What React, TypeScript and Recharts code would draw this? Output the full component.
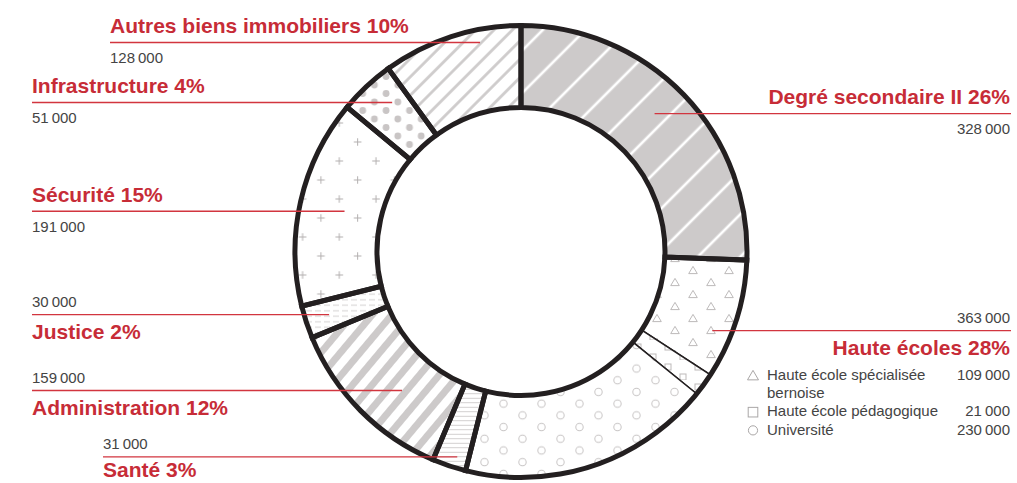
import React from "react";
import { PieChart, Pie, Cell } from "recharts";

// budget categories, clockwise from 12 o'clock
const categories = [
  "Degré secondaire II",
  "Haute écoles",
  "Santé",
  "Administration",
  "Justice",
  "Sécurité",
  "Infrastructure",
  "Autres biens immobiliers",
];
const amounts = [328000, 363000, 31000, 159000, 30000, 191000, 51000, 128000];
const shares = [26, 28, 3, 12, 2, 15, 4, 10];

// breakdown of "Haute écoles"
const schoolNames = ["Haute école spécialisée\nbernoise", "Haute école pédagogique", "Université"];
const schoolAmounts = [109000, 21000, 230000];

const patternIds = ["sec2", "hautes", "sante", "admin", "justice", "securite", "infra", "autres"];
const schoolPatternIds = ["triangles", "squares", "circles"];
const schoolSymbols = ["triangle", "square", "circle"];

const CX = 521;
const CY = 251.5;
const R_IN = 144;
const R_OUT = 226;
const RIGHT_EDGE = 1010;
const BOTTOM_TEXT = 477;
const INK = "#231f20";
const RED = "#c72c37";
const RED_LINE = "#d2353f";
const GREY_TEXT = "#444444";
const PAT = "#cdcaca";
const PAT_LINE = "#bdbaba";
const FONT = "'Liberation Sans', Arial, sans-serif";

// where each leader line starts (inside its slice) and where its text sits
const labelLayout = [
  { side: "right", textX: 0, radius: 192, nudge: -2, numberAbove: false },
  { side: "right", textX: 0, radius: 207, nudge: -30.7, numberAbove: true },
  { side: "left", textX: 103, radius: 215, nudge: -1.3, numberAbove: true },
  { side: "left", textX: 32, radius: 183, nudge: -4.7, numberAbove: true },
  { side: "left", textX: 32, radius: 202, nudge: 0, numberAbove: true },
  { side: "left", textX: 32, radius: 181, nudge: 0, numberAbove: false },
  { side: "left", textX: 32, radius: 197, nudge: 2.3, numberAbove: false },
  { side: "left", textX: 110, radius: 213, nudge: 6.9, numberAbove: false },
];

const fmt = (n: number) => String(Math.round(n)).replace(/\B(?=(\d{3})+(?!\d))/g, "\u2009");

const schoolTotal = schoolAmounts.reduce((a, b) => a + b, 0);

const mainData = categories.map((name, i) => ({ name, value: amounts[i] }));
const detailData = categories.flatMap((name, i) =>
  i === 1
    ? schoolNames.map((n, j) => ({
        name: n,
        value: (amounts[i] * schoolAmounts[j]) / schoolTotal,
        pattern: schoolPatternIds[j],
      }))
    : [{ name, value: amounts[i], pattern: patternIds[i] }]
);

const Symbol = ({ kind, x, y }: { kind: string; x: number; y: number }) => {
  const st = { fill: "none", stroke: "#aaa7a7", strokeWidth: 1 };
  if (kind === "triangle") {
    return <polygon points={`${x - 5.5},${y} ${x + 5.5},${y} ${x},${y - 9.5}`} {...st} />;
  }
  if (kind === "square") {
    return <rect x={x - 4.8} y={y - 9} width={9.6} height={9.6} {...st} />;
  }
  return <circle cx={x} cy={y - 4.5} r={4.6} {...st} />;
};

const renderLabel = (props: any) => {
  const { midAngle, index } = props;
  const cx = props.cx ?? CX;
  const cy = props.cy ?? CY;
  const lay = labelLayout[index];
  const theta = ((90 - midAngle + lay.nudge) * Math.PI) / 180;
  const ax = cx + lay.radius * Math.sin(theta);
  const ay = cy - lay.radius * Math.cos(theta);
  const right = lay.side === "right";
  const x0 = right ? ax : lay.textX;
  const x1 = right ? RIGHT_EDGE + 1 : ax;
  const tx = right ? RIGHT_EDGE : lay.textX;
  const anchor = right ? "end" : "start";
  const titleY = lay.numberAbove ? Math.min(ay + 24.5, BOTTOM_TEXT) : ay - 9.3;
  const numY = lay.numberAbove ? ay - 7.5 : ay + 20.5;

  let legend = null;
  if (index === 1) {
    let y = titleY + 24.7;
    const rows: any[] = [];
    schoolNames.forEach((n, j) => {
      const lines = n.split("\n");
      rows.push(
        <g key={n}>
          <Symbol kind={schoolSymbols[j]} x={753} y={y} />
          {lines.map((ln, k) => (
            <text key={k} x={767} y={y + k * 18} fontSize={15} fill={GREY_TEXT} fontFamily={FONT}>
              {ln}
            </text>
          ))}
          <text x={RIGHT_EDGE} y={y} fontSize={15} fill={GREY_TEXT} fontFamily={FONT} textAnchor="end">
            {fmt(schoolAmounts[j])}
          </text>
        </g>
      );
      y += lines.length * 18 + 0.5;
    });
    legend = <g>{rows}</g>;
  }

  return (
    <g key={`label-${index}`}>
      <line x1={x0} y1={ay} x2={x1} y2={ay} stroke={RED_LINE} strokeWidth={1.4} />
      <text x={tx} y={titleY} fontSize={21} fontWeight="bold" fill={RED} fontFamily={FONT} textAnchor={anchor}>
        {`${categories[index]} ${shares[index]}%`}
      </text>
      <text x={tx} y={numY} fontSize={15} fill={GREY_TEXT} fontFamily={FONT} textAnchor={anchor}>
        {fmt(amounts[index])}
      </text>
      {legend}
    </g>
  );
};

const Patterns = () => (
  <defs>
    <pattern id="sec2" width={30} height={30} patternUnits="userSpaceOnUse" patternTransform="rotate(45)">
      <rect width={30} height={30} fill={PAT} />
      <line x1={15} y1={0} x2={15} y2={30} stroke="#fff" strokeWidth={2.7} />
    </pattern>
    <pattern id="autres" width={13} height={13} patternUnits="userSpaceOnUse" patternTransform="rotate(45)">
      <rect width={13} height={13} fill="#fff" />
      <line x1={6.5} y1={0} x2={6.5} y2={13} stroke={PAT} strokeWidth={2.7} />
    </pattern>
    <pattern id="admin" width={15} height={15} patternUnits="userSpaceOnUse" patternTransform="rotate(40)">
      <rect width={15} height={15} fill="#fff" />
      <line x1={7.5} y1={0} x2={7.5} y2={15} stroke={PAT} strokeWidth={7} />
    </pattern>
    <pattern id="infra" width={23.4} height={17} patternUnits="userSpaceOnUse">
      <rect width={23.4} height={17} fill="#fff" />
      {[
        [0, 0],
        [23.4, 0],
        [0, 17],
        [23.4, 17],
        [11.7, 8.5],
      ].map(([x, y], i) => (
        <circle key={i} cx={x} cy={y} r={3.4} fill="#c9c5c5" />
      ))}
    </pattern>
    <pattern id="securite" width={36.7} height={38} patternUnits="userSpaceOnUse">
      <rect width={36.7} height={38} fill="#fff" />
      {[
        [9, 9],
        [27.35, 28],
      ].map(([x, y], i) => (
        <path key={i} d={`M${x - 3.8},${y}H${x + 3.8}M${x},${y - 3.8}V${y + 3.8}`} stroke="#b3b0b0" strokeWidth={1} />
      ))}
    </pattern>
    <pattern id="justice" width={9} height={5.5} patternUnits="userSpaceOnUse">
      <rect width={9} height={5.5} fill="#fff" />
      <line x1={0} y1={2.75} x2={6} y2={2.75} stroke="#c6c3c3" strokeWidth={0.8} />
    </pattern>
    <pattern id="sante" width={10} height={4.5} patternUnits="userSpaceOnUse">
      <rect width={10} height={4.5} fill="#fff" />
      <line x1={0} y1={2.25} x2={10} y2={2.25} stroke="#bbb8b8" strokeWidth={0.7} />
    </pattern>
    <pattern id="circles" width={38} height={23.4} patternUnits="userSpaceOnUse">
      <rect width={38} height={23.4} fill="#fff" />
      <circle cx={9.5} cy={5.85} r={3.7} fill="none" stroke="#c8c5c5" strokeWidth={1} />
      <circle cx={28.5} cy={17.55} r={3.7} fill="none" stroke="#c8c5c5" strokeWidth={1} />
    </pattern>
    <pattern id="triangles" width={36} height={24} patternUnits="userSpaceOnUse">
      <rect width={36} height={24} fill="#fff" />
      {[
        [9, 6],
        [27, 18],
      ].map(([x, y], i) => (
        <polygon
          key={i}
          points={`${x - 4.3},${y + 3.6} ${x + 4.3},${y + 3.6} ${x},${y - 3.6}`}
          fill="none"
          stroke={PAT_LINE}
          strokeWidth={1}
        />
      ))}
    </pattern>
    <pattern id="squares" width={30} height={20} patternUnits="userSpaceOnUse">
      <rect width={30} height={20} fill="#fff" />
      <rect x={5} y={4} width={6} height={6} fill="none" stroke={PAT_LINE} strokeWidth={1} />
      <rect x={20} y={14} width={6} height={6} fill="none" stroke={PAT_LINE} strokeWidth={1} />
    </pattern>
  </defs>
);

const App = () => {
  return (
    <div style={{ position: "absolute", left: 0, top: 0 }}>
      <PieChart width={1017} height={483} margin={{ top: 0, right: 0, bottom: 0, left: 0 }}>
        <Patterns />
        <Pie
          data={detailData}
          dataKey="value"
          cx={CX}
          cy={CY}
          innerRadius={R_IN}
          outerRadius={R_OUT}
          startAngle={90}
          endAngle={-270}
          stroke={INK}
          strokeWidth={1.5}
          isAnimationActive={false}
          labelLine={false}
        >
          {detailData.map((d, i) => (
            <Cell key={i} fill={`url(#${d.pattern})`} />
          ))}
        </Pie>
        <Pie
          data={mainData}
          dataKey="value"
          cx={CX}
          cy={CY}
          innerRadius={R_IN}
          outerRadius={R_OUT}
          startAngle={90}
          endAngle={-270}
          stroke={INK}
          strokeWidth={5}
          isAnimationActive={false}
          labelLine={false}
          label={renderLabel}
        >
          {mainData.map((d, i) => (
            <Cell key={i} fill="none" />
          ))}
        </Pie>
      </PieChart>
    </div>
  );
};

export default App;
